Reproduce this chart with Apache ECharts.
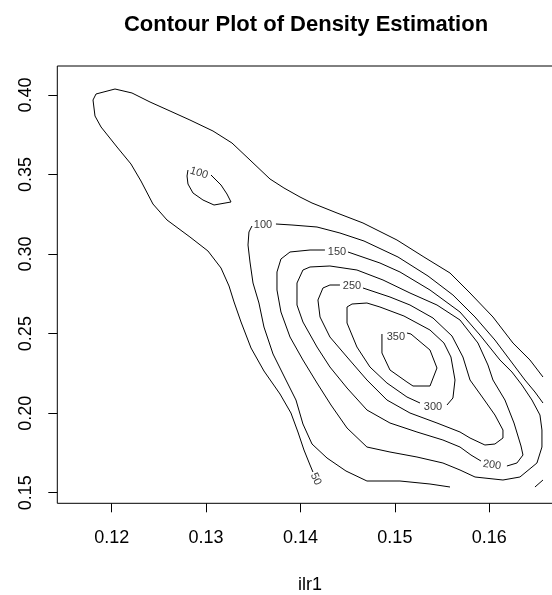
<!DOCTYPE html>
<html>
<head>
<meta charset="utf-8">
<script src="https://cdn.jsdelivr.net/npm/echarts@6/dist/echarts.min.js"></script>
<style>
  html, body { margin: 0; padding: 0; background: #fff; }
  #chart { width: 552px; height: 595px; }
</style>
</head>
<body>
<div id="chart"></div>
<script>
// Axis ranges and tick labels
const xRange = [0.114237, 0.1678];
const yRange = [0.14334, 0.41823];
const xTicks = [0.12, 0.13, 0.14, 0.15, 0.16];
const yTicks = [0.15, 0.20, 0.25, 0.30, 0.35, 0.40];

// Contour lines of the density estimate, as [ilr1, ilr2] vertices.
// Each piece is open where its level label sits on the line.
const level50 = [
  [0.14132,0.16301],[0.14101,0.16741],[0.14037,0.17684],[0.13973,0.18815],[0.13899,0.20010],
  [0.13783,0.21204],[0.13613,0.22650],[0.13476,0.24096],[0.13370,0.25730],[0.13296,0.26988],
  [0.13243,0.27993],[0.13158,0.29125],[0.13020,0.30193],[0.12829,0.31074],[0.12586,0.32142],
  [0.12437,0.33148],[0.12310,0.34594],[0.12204,0.35663],[0.12056,0.36731],[0.11887,0.37988],
  [0.11823,0.38680],[0.11802,0.39686],[0.11834,0.40063],[0.12035,0.40377],[0.12215,0.40126],
  [0.12406,0.39560],[0.12618,0.38994],[0.12829,0.38428],[0.13073,0.37737],[0.13274,0.36983],
  [0.13465,0.35914],[0.13677,0.34720],[0.13825,0.34154],[0.13995,0.33588],[0.14122,0.33211],
  [0.14387,0.32582],[0.14662,0.31954],[0.15022,0.30885],[0.15308,0.29816],[0.15584,0.28811],
  [0.15796,0.27553],[0.16039,0.26045],[0.16251,0.24410],[0.16431,0.23342],[0.16569,0.22273]
];
const level100Loop = [
  [0.13052,0.34971],[0.13158,0.34342],[0.13221,0.33777],[0.13264,0.33274],[0.13084,0.33085],
  [0.12967,0.33399],[0.12861,0.33840],[0.12808,0.34405],[0.12798,0.34908],[0.12808,0.35285]
];
const level100West = [
  [0.13486,0.31765],[0.13454,0.31388],[0.13444,0.30571],[0.13465,0.29502],[0.13497,0.28182],
  [0.13560,0.26925],[0.13613,0.25416],[0.13709,0.23719],[0.13846,0.22084],[0.13952,0.20827],
  [0.14026,0.19318],[0.14122,0.18061],[0.14281,0.17181],[0.14482,0.16364],[0.14704,0.15735],
  [0.15054,0.15735],[0.15372,0.15547],[0.15584,0.15358]
];
const level100East = [
  [0.13740,0.31891],[0.13910,0.31828],[0.14175,0.31702],[0.14418,0.31325],[0.14673,0.30822],
  [0.15033,0.29816],[0.15351,0.28622],[0.15615,0.27428],[0.15849,0.26045],[0.16060,0.24599],
  [0.16219,0.23342],[0.16378,0.22084],[0.16484,0.21330],[0.16569,0.20638]
];
const level100Corner = [
  [0.16484,0.15358],[0.16569,0.15798]
];
const level150 = [
  [0.14503,0.30131],[0.14842,0.29439],[0.15054,0.28874],[0.15372,0.27742],[0.15690,0.26359],
  [0.15901,0.24913],[0.16113,0.23342],[0.16240,0.22587],[0.16346,0.21770],[0.16452,0.20827],
  [0.16537,0.19884],[0.16558,0.18941],[0.16558,0.17872],[0.16505,0.16867],[0.16325,0.15987],
  [0.16145,0.15798],[0.15849,0.15987],[0.15690,0.16427],[0.15509,0.16867],[0.15234,0.17244],
  [0.14948,0.17558],[0.14704,0.17872],[0.14493,0.19067],[0.14323,0.20513],[0.14175,0.21896],
  [0.14026,0.23342],[0.13889,0.24787],[0.13793,0.26359],[0.13751,0.27742],[0.13751,0.28874],
  [0.13793,0.29691],[0.13889,0.30131],[0.14101,0.30256],[0.14259,0.30256]
];
const level200 = [
  [0.15912,0.16992],[0.15806,0.17370],[0.15690,0.17872],[0.15509,0.18313],[0.15234,0.18815],
  [0.14948,0.19381],[0.14704,0.20198],[0.14493,0.21581],[0.14312,0.22901],[0.14175,0.24159],
  [0.14026,0.25730],[0.13963,0.26799],[0.13963,0.28182],[0.14026,0.28999],[0.14101,0.29188],
  [0.14312,0.29251],[0.14598,0.28999],[0.14874,0.28371],[0.15160,0.27553],[0.15446,0.26799],
  [0.15690,0.25856],[0.15880,0.24410],[0.15986,0.23027],[0.16039,0.22084],[0.16166,0.20827],
  [0.16262,0.19381],[0.16336,0.17935],[0.16357,0.17370],[0.16293,0.16867],[0.16187,0.16678]
];
const level250 = [
  [0.14662,0.27868],[0.14948,0.27302],[0.15160,0.26799],[0.15404,0.25982],[0.15605,0.24850],
  [0.15721,0.23530],[0.15796,0.22084],[0.15933,0.20953],[0.16060,0.19884],[0.16145,0.18941],
  [0.16145,0.18438],[0.16060,0.18061],[0.15954,0.17998],[0.15796,0.18438],[0.15690,0.18815],
  [0.15446,0.19381],[0.15160,0.20010],[0.14916,0.20827],[0.14704,0.22084],[0.14493,0.23530],
  [0.14312,0.24787],[0.14207,0.26045],[0.14185,0.27113],[0.14238,0.27868],[0.14312,0.28056],
  [0.14418,0.28056]
];
const level300 = [
  [0.15552,0.20513],[0.15615,0.20953],[0.15637,0.22084],[0.15594,0.23530],[0.15520,0.24410],
  [0.15372,0.25227],[0.15096,0.26107],[0.14842,0.26673],[0.14704,0.26925],[0.14546,0.26862],
  [0.14493,0.26673],[0.14493,0.25667],[0.14598,0.24159],[0.14736,0.22901],[0.14916,0.21896],
  [0.15128,0.21016],[0.15266,0.20638]
];
const level350 = [
  [0.15128,0.25039],[0.15170,0.24976],[0.15372,0.23970],[0.15446,0.22839],[0.15372,0.21707],
  [0.15192,0.21707],[0.15128,0.21959],[0.14948,0.22713],[0.14863,0.23782],[0.14863,0.24976]
];

// Level labels placed on the contours
const labelLevels = [50, 100, 100, 150, 200, 250, 300, 350];
const labelX      = [0.14163, 0.12925, 0.13603, 0.14387, 0.16029, 0.14546, 0.15404, 0.15011];
const labelY      = [0.15861, 0.35097, 0.31828, 0.30131, 0.16741, 0.27993, 0.20387, 0.24787];
const labelAngle  = [-65, -17, 0, 0, -8, 0, 0, 0];

const contourPieces = [
  level50, level100Loop, level100West, level100East, level100Corner,
  level150, level200, level250, level300, level350
];

const FONT = '"Liberation Sans", Arial, Helvetica, sans-serif';
const chart = echarts.init(document.getElementById('chart'), null, { renderer: 'canvas' });

const lineSeries = contourPieces.map(pts => ({
  type: 'line',
  data: pts,
  symbol: 'none',
  showSymbol: false,
  silent: true,
  animation: false,
  clip: true,
  lineStyle: { color: '#000', width: 1 }
}));

const labelSeries = {
  type: 'scatter',
  symbolSize: 0,
  silent: true,
  animation: false,
  data: labelLevels.map((lv, i) => ({
    value: [labelX[i], labelY[i]],
    label: { rotate: labelAngle[i] }
  })),
  label: {
    show: true,
    position: 'inside',
    align: 'center',
    verticalAlign: 'middle',
    fontFamily: FONT,
    fontSize: 11,
    color: '#000',
    formatter: p => String(labelLevels[p.dataIndex])
  }
};

chart.setOption({
  backgroundColor: '#fff',
  animation: false,
  title: {
    text: 'Contour Plot of Density Estimation',
    left: 306,
    top: 14,
    padding: 0,
    textAlign: 'center',
    textStyle: { fontFamily: FONT, fontSize: 22, fontWeight: 'bold', color: '#000' }
  },
  grid: {
    left: 57.3,
    top: 66,
    width: 505.6,
    height: 437.3,
    show: true,
    borderColor: '#000',
    borderWidth: 1,
    backgroundColor: 'transparent',
    containLabel: false,
    outerBoundsMode: 'none'
  },
  xAxis: {
    type: 'value',
    min: xRange[0],
    max: xRange[1],
    name: 'ilr1',
    nameLocation: 'middle',
    nameGap: 73,
    nameTextStyle: { fontFamily: FONT, fontSize: 18, color: '#000' },
    axisLine: { show: false },
    splitLine: { show: false },
    axisTick: {
      show: true, inside: false, length: 9,
      customValues: xTicks,
      lineStyle: { color: '#000', width: 1 }
    },
    axisLabel: {
      customValues: xTicks,
      margin: 26,
      fontFamily: FONT, fontSize: 18, color: '#000',
      formatter: v => v.toFixed(2)
    }
  },
  yAxis: {
    type: 'value',
    min: yRange[0],
    max: yRange[1],
    axisLine: { show: false },
    splitLine: { show: false },
    axisTick: {
      show: true, inside: false, length: 9,
      customValues: yTicks,
      lineStyle: { color: '#000', width: 1 }
    },
    axisLabel: {
      customValues: yTicks,
      rotate: 90,
      margin: 22,
      fontFamily: FONT, fontSize: 18, color: '#000',
      formatter: v => v.toFixed(2)
    }
  },
  series: [...lineSeries, labelSeries]
});
</script>
</body>
</html>
